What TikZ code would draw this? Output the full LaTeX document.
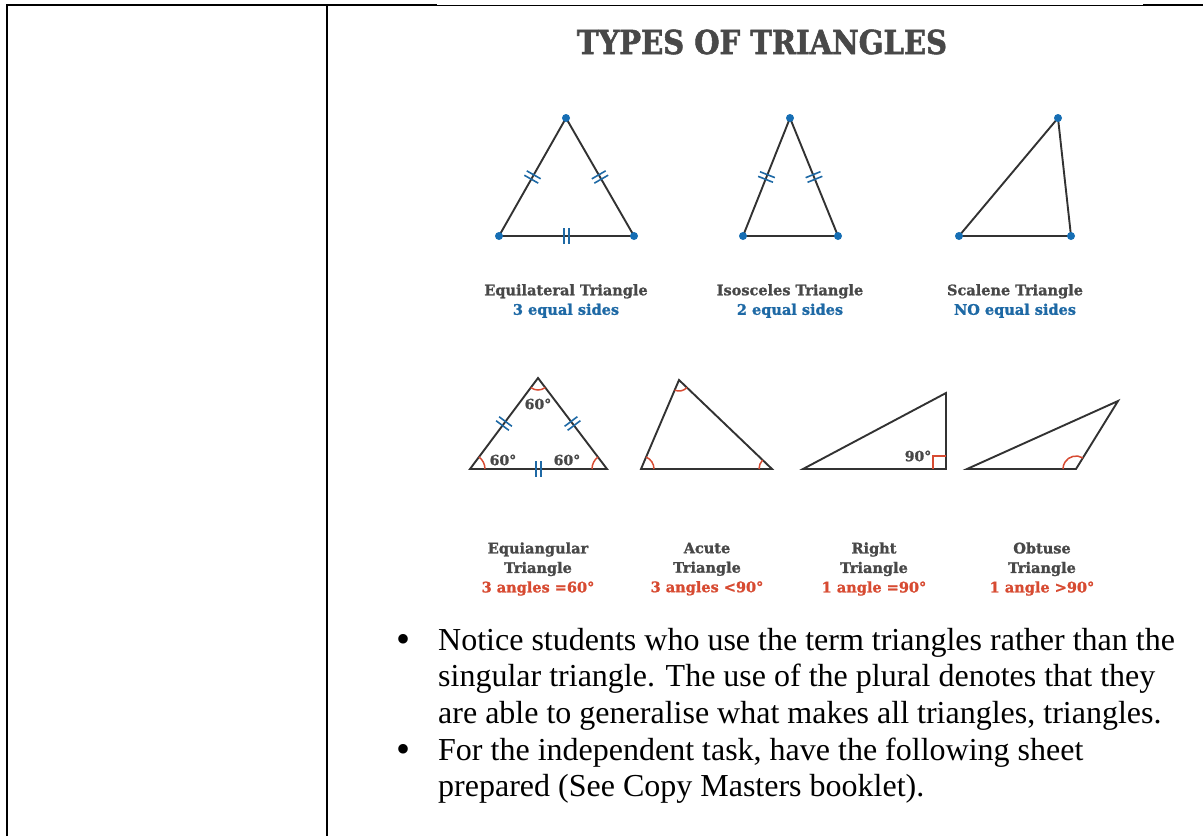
\documentclass[tikz,border=0pt]{standalone}
\usepackage{fontspec}
\setmainfont{Liberation Serif}
\newfontfamily\slabfont[FakeBold=1.3]{DejaVu Serif}
\newfontfamily\titlefont[FakeStretch=0.88,FakeBold=1.6]{DejaVu Serif}
\usetikzlibrary{angles, decorations.markings}
\definecolor{pointblue}{RGB}{22, 110, 180}
\definecolor{sideblue}{RGB}{30, 105, 165}
\definecolor{anglered}{RGB}{215, 75, 50}
\definecolor{linegray}{RGB}{50, 50, 50}
\definecolor{titlegray}{RGB}{72, 72, 72}

\begin{document}
\begin{tikzpicture}[x=1pt, y=-1pt,
  side/.style={linegray, line width=1.9pt, line join=miter},
  eqmark/.style={postaction={decorate, decoration={markings,
    mark=at position 0.5 with {\draw[sideblue, line width=1.6pt] (-2.5,-8) -- (-2.5,8) (2.5,-8) -- (2.5,8);}}}},
  arcmark/.style={draw=anglered, line width=1.5pt, angle radius=#1},
  typename/.style={text=titlegray, font=\slabfont\bfseries\fontsize{14.5}{19.5}\selectfont, align=center},
  degree/.style={text=titlegray, font=\slabfont\bfseries\fontsize{14}{16}\selectfont},
  note/.style={anchor=north west, inner sep=0pt, align=left, font=\fontsize{32}{36.5}\selectfont},
  bullet/.style={anchor=base, inner sep=0pt, font=\fontsize{40}{40}\selectfont}]
\useasboundingbox (0,0) rectangle (1203,836);

\draw[line width=2pt] (7,836) -- (7,5) -- (437,5);
\draw[line width=1pt] (437,5) -- (1143,5);
\draw[line width=2pt] (1143,5) -- (1203,5);
\draw[line width=1.5pt] (327,5) -- (327,836);

\node[text=titlegray, font=\titlefont\bfseries\fontsize{33}{36}\selectfont] (title) at (762,42) {TYPES OF TRIANGLES};

\coordinate (eqT) at (566,118);
\coordinate (eqL) at (499,236);
\coordinate (eqR) at (634,236);
\coordinate (isT) at (790,118);
\coordinate (isL) at (743,236);
\coordinate (isR) at (838,236);
\coordinate (scT) at (1058,118);
\coordinate (scL) at (959,236);
\coordinate (scR) at (1071,236);

\draw[side] (eqL) -- (eqT) -- (eqR) -- cycle;
\draw[side] (isL) -- (isT) -- (isR) -- cycle;
\draw[side] (scL) -- (scT) -- (scR) -- cycle;
\path[eqmark] (eqL) -- (eqT);
\path[eqmark] (eqT) -- (eqR);
\path[eqmark] (eqL) -- (eqR);
\path[eqmark] (isL) -- (isT);
\path[eqmark] (isT) -- (isR);
\foreach \v in {eqT,eqL,eqR,isT,isL,isR,scT,scL,scR}
  \fill[pointblue] (\v) circle (4);

\node[typename] (eqname) at (566,301) {Equilateral Triangle\\ \color{sideblue}3 equal sides};
\node[typename] (isname) at (790,301) {Isosceles Triangle\\ \color{sideblue}2 equal sides};
\node[typename] (scname) at (1015,301) {Scalene Triangle\\ \color{sideblue}NO equal sides};

\coordinate (eaT) at (538,378);
\coordinate (eaL) at (470,469);
\coordinate (eaR) at (607,469);
\coordinate (acT) at (679,380);
\coordinate (acL) at (641,469);
\coordinate (acR) at (772,469);
\coordinate (rtT) at (946,393);
\coordinate (rtL) at (803,469);
\coordinate (rtR) at (946,469);
\coordinate (obT) at (1118,401);
\coordinate (obL) at (967,469);
\coordinate (obR) at (1076,469);

\draw[side] (eaL) -- (eaT) -- (eaR) -- cycle;
\draw[side] (acL) -- (acT) -- (acR) -- cycle;
\draw[side] (rtL) -- (rtT) -- (rtR) -- cycle;
\draw[side] (obL) -- (obT) -- (obR) -- cycle;
\path[eqmark] (eaL) -- (eaT);
\path[eqmark] (eaT) -- (eaR);
\path[eqmark] (eaL) -- (eaR);

\pic[arcmark=12pt] {angle = eaL--eaT--eaR};
\pic[arcmark=15pt] {angle = eaR--eaL--eaT};
\pic[arcmark=15pt] {angle = eaT--eaR--eaL};
\pic[arcmark=11pt] {angle = acL--acT--acR};
\pic[arcmark=13pt] {angle = acR--acL--acT};
\pic[arcmark=13pt] {angle = acT--acR--acL};
\pic[arcmark=13pt] {angle = obT--obR--obL};
\draw[anglered, line width=1.5pt] (933,469) -- (933,456) -- (946,456);

\node[degree] (eatop) at (538,404) {60°};
\node[degree] (ealeft) at (503,460) {60°};
\node[degree] (earight) at (567,460) {60°};
\node[degree] (rtangle) at (918,456) {90°};

\node[typename] (eaname) at (538,569) {Equiangular\\ Triangle\\ \color{anglered}3 angles =60°};
\node[typename] (acname) at (707,569) {Acute\\ Triangle\\ \color{anglered}3 angles <90°};
\node[typename] (rtname) at (874,569) {Right\\ Triangle\\ \color{anglered}1 angle =90°};
\node[typename] (obname) at (1042,569) {Obtuse\\ Triangle\\ \color{anglered}1 angle >90°};

\node[bullet] (dot1) at (403,652.5) {•};
\node[note] (note1) at (438,628) {Notice students who use the term triangles rather than the\\ singular triangle. The use of the plural denotes that they\\ are able to generalise what makes all triangles, triangles.};
\node[bullet] (dot2) at (403,762) {•};
\node[note] (note2) at (438,737.5) {For the independent task, have the following sheet\\ prepared (See Copy Masters booklet).};

\end{tikzpicture}
\end{document}
